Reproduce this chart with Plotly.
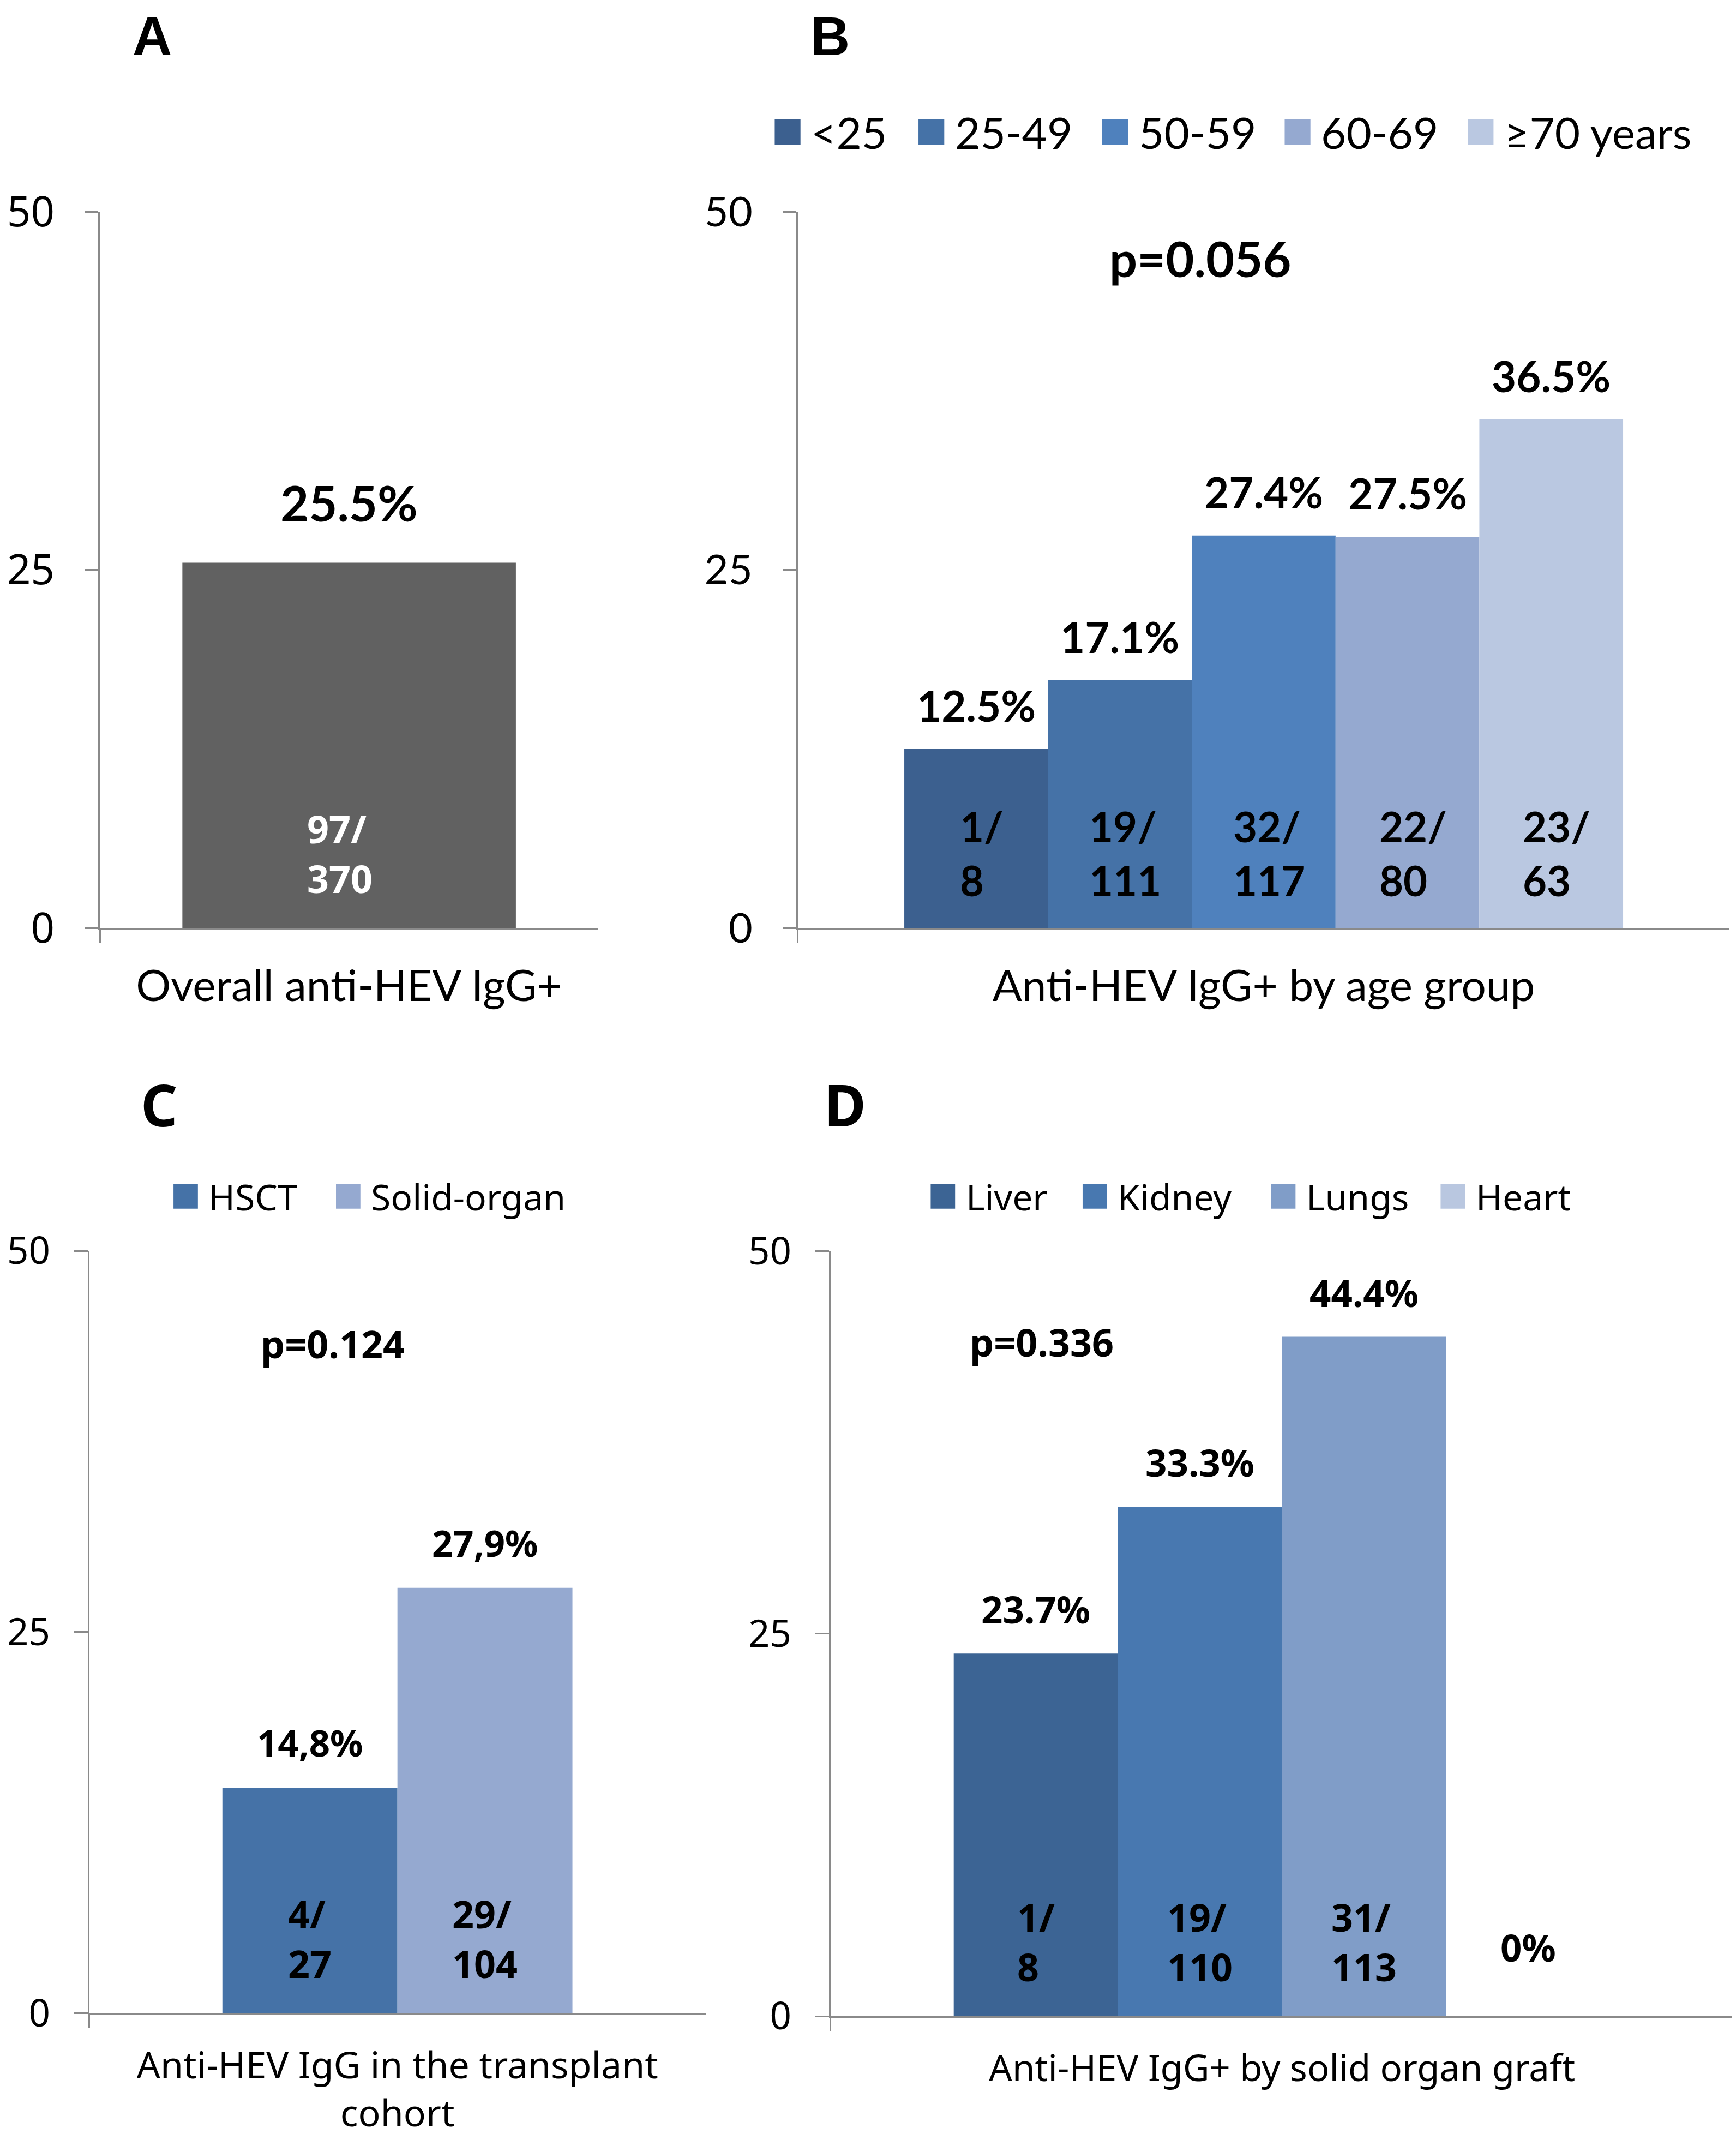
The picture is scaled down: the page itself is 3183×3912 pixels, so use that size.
import plotly.graph_objects as go

# ---------------- data ----------------
A_category = "Overall anti-HEV IgG+"
A_series = ["Overall"]
A_values = [25.5]
A_pct_labels = ["25.5%"]
A_count_labels = ["97/<br>370"]

B_category = "Anti-HEV IgG+ by age group"
B_series = ["<25", "25-49", "50-59", "60-69", "≥70 years"]
B_values = [12.5, 17.3, 27.4, 27.3, 35.5]
B_pct_labels = ["12.5%", "17.1%", "27.4%", "27.5%", "36.5%"]
B_count_labels = ["1/<br>8", "19/<br>111", "32/<br>117", "22/<br>80", "23/<br>63"]
B_pvalue = "p=0.056"

C_category = "Anti-HEV IgG in the transplant<br>cohort"
C_series = ["HSCT", "Solid-organ"]
C_values = [14.8, 27.9]
C_pct_labels = ["14,8%", "27,9%"]
C_count_labels = ["4/<br>27", "29/<br>104"]
C_pvalue = "p=0.124"

D_category = "Anti-HEV IgG+ by solid organ graft"
D_series = ["Liver", "Kidney", "Lungs", "Heart"]
D_values = [23.7, 33.3, 44.4, 0]
D_pct_labels = ["23.7%", "33.3%", "44.4%", "0%"]
D_count_labels = ["1/<br>8", "19/<br>110", "31/<br>113", ""]
D_pvalue = "p=0.336"

y_tickvals = [0, 25, 50]
y_range = [0, 50]

# ---------------- layout helpers (reference frame 1280 x 1573) ----------------
W, H = 3183, 3912
RW, RH = 1280.0, 1573.0
def px(x):
    return x / RW
def py(y):
    return 1 - y / RH

LATO = "Lato"
NOTO = "Noto Sans"
LIB = "Liberation Sans"
AXIS_COL = "#8a8a8a"

panels = [
    dict(key="A", cat=A_category, series=A_series, vals=A_values, pct=A_pct_labels,
         cnt=A_count_labels, pval=None, colors=["#616161"],
         xdom=[px(70.4), px(438)], ydom=[py(680.9), py(152.8)], group_w=0.669,
         tickfont=(NOTO, 76), ytstand=40, catfont=(LATO, 80), pctfont=(LATO, 90),
         cntfont=(NOTO, 70, "white"), cnt_xshift=-17,
         letter=("A", 109, None, LIB, 100), legend=None, pval_pos=None, pctshift=111),
    dict(key="B", cat=B_category, series=B_series, vals=B_values, pct=B_pct_labels,
         cnt=B_count_labels, pval=B_pvalue,
         colors=["#3c608f", "#4572a7", "#4f81bd", "#95a9d0", "#bac8e1"],
         xdom=[px(585.1), px(1272)], ydom=[py(680.9), py(152.8)], group_w=0.7716,
         tickfont=(LATO, 76), ytstand=40, catfont=(LATO, 80), pctfont=(LATO, 78),
         cntfont=(LATO, 76, "black"), cnt_xshift=10,
         letter=("B", 609, None, LIB, 100),
         legend=dict(x=[568, 674, 809.5, 944, 1079], y=94, size=19, font=(LATO, 80)),
         pval_pos=(882, 187, LATO, 90), pctshift=80),
    dict(key="C", cat=C_category, series=C_series, vals=C_values, pct=C_pct_labels,
         cnt=C_count_labels, pval=C_pvalue, colors=["#4572a7", "#95a9d0"],
         xdom=[px(62.6), px(517)], ydom=[py(1480.7), py(918.9)], group_w=0.568,
         tickfont=(NOTO, 69), ytstand=30, catfont=(NOTO, 68), pctfont=(NOTO, 67),
         cntfont=(NOTO, 70, "black"), cnt_xshift=0,
         letter=("C", 114, 811, NOTO, 105),
         legend=dict(x=[124.7, 244.5], y=878.7, size=18, font=(NOTO, 66)),
         pval_pos=(242, 987, NOTO, 70), pctshift=83),
    dict(key="D", cat=D_category, series=D_series, vals=D_values, pct=D_pct_labels,
         cnt=D_count_labels, pval=D_pvalue,
         colors=["#3c6494", "#4878b0", "#809dc8", "#b9c7e0"],
         xdom=[px(609.1), px(1275)], ydom=[py(1483), py(919)], group_w=0.727,
         tickfont=(NOTO, 69), ytstand=30, catfont=(NOTO, 67), pctfont=(NOTO, 69),
         cntfont=(NOTO, 70, "black"), cnt_xshift=0,
         letter=("D", 620, 811, NOTO, 105),
         legend=dict(x=[683, 795, 934, 1059], y=878.7, size=18, font=(NOTO, 66)),
         pval_pos=(765, 986, NOTO, 70), pctshift=82),
]

fig = go.Figure()
annotations = []
shapes = []
layout_axes = {}

for i, p in enumerate(panels):
    n = i + 1
    xa = "x" if n == 1 else f"x{n}"
    ya = "y" if n == 1 else f"y{n}"
    xkey = "xaxis" if n == 1 else f"xaxis{n}"
    ykey = "yaxis" if n == 1 else f"yaxis{n}"
    k = len(p["series"])
    w = p["group_w"] / k
    centers = []
    for j, (name, v, col) in enumerate(zip(p["series"], p["vals"], p["colors"])):
        off = -p["group_w"] / 2 + j * w
        centers.append(off + w / 2)
        fig.add_trace(go.Bar(
            x=[p["cat"]], y=[v], name=name, width=[w], offset=[off],
            marker=dict(color=col, line=dict(width=0)),
            xaxis=xa, yaxis=ya, showlegend=False, hoverinfo="skip"))
    # percentage labels above bars / count labels inside bars
    for j, v in enumerate(p["vals"]):
        pf = p["pctfont"]
        annotations.append(dict(
            x=centers[j], y=v, xref=xa, yref=ya, text=p["pct"][j], showarrow=False,
            xanchor="center", yanchor="middle", yshift=p["pctshift"] if v > 0 else 127,
            font=dict(family=pf[0], size=pf[1], color="black", weight="bold")))
        cf = p["cntfont"]
        if p["cnt"][j]:
            annotations.append(dict(
                x=centers[j], y=0, xref=xa, yref=ya, text=p["cnt"][j], showarrow=False,
                xanchor="center", yanchor="middle", yshift=137, xshift=p["cnt_xshift"],
                align="left",
                font=dict(family=cf[0], size=cf[1], color=cf[2], weight="bold")))
    layout_axes[xkey] = dict(
        domain=p["xdom"], anchor=ya, type="category", range=[-0.5, 0.5],
        showline=True, linecolor=AXIS_COL, linewidth=3, mirror=False,
        ticks="outside", tickson="boundaries", ticklen=25, tickwidth=3, tickcolor=AXIS_COL,
        tickfont=dict(family=p["catfont"][0], size=p["catfont"][1], color="black"),
        ticklabelstandoff=35, showgrid=False, zeroline=False, fixedrange=True,
        automargin=False)
    layout_axes[ykey] = dict(
        domain=p["ydom"], anchor=xa, range=y_range, tickvals=y_tickvals,
        showline=True, linecolor=AXIS_COL, linewidth=3,
        ticks="outside", ticklen=25, tickwidth=3, tickcolor=AXIS_COL,
        tickfont=dict(family=p["tickfont"][0], size=p["tickfont"][1], color="black"),
        ticklabelstandoff=p["ytstand"], showgrid=False, zeroline=False, fixedrange=True,
        automargin=False)
    # panel letter
    lt = p["letter"]
    if lt[2] is None:
        annotations.append(dict(
            x=px(lt[1]), y=1.0, xref="paper", yref="paper", text=lt[0], showarrow=False,
            xanchor="center", yanchor="top",
            font=dict(family=lt[3], size=lt[4], color="black", weight="bold")))
    else:
        annotations.append(dict(
            x=px(lt[1]), y=py(lt[2]), xref="paper", yref="paper", text=lt[0],
            showarrow=False, xanchor="center", yanchor="middle",
            font=dict(family=lt[3], size=lt[4], color="black", weight="bold")))
    # p value
    if p["pval"]:
        pp = p["pval_pos"]
        annotations.append(dict(
            x=px(pp[0]), y=py(pp[1]), xref="paper", yref="paper", text=p["pval"],
            showarrow=False, xanchor="center", yanchor="middle",
            font=dict(family=pp[2], size=pp[3], color="black", weight="bold")))
    # legend (square swatch + label)
    lg = p["legend"]
    if lg:
        s = lg["size"]
        for j, name in enumerate(p["series"]):
            x0 = lg["x"][j]
            shapes.append(dict(
                type="rect", xref="paper", yref="paper",
                x0=px(x0), x1=px(x0 + s), y0=py(lg["y"] + s / 2), y1=py(lg["y"] - s / 2),
                fillcolor=p["colors"][j], line=dict(width=0)))
            annotations.append(dict(
                x=px(x0 + s + 7), y=py(lg["y"]), xref="paper", yref="paper", text=name,
                showarrow=False, xanchor="left", yanchor="middle",
                font=dict(family=lg["font"][0], size=lg["font"][1], color="black")))

fig.update_layout(
    width=W, height=H, margin=dict(l=0, r=0, t=0, b=0, autoexpand=False),
    paper_bgcolor="white", plot_bgcolor="white",
    barmode="overlay", showlegend=False,
    annotations=annotations, shapes=shapes, **layout_axes)

fig.write_html("out.html")
